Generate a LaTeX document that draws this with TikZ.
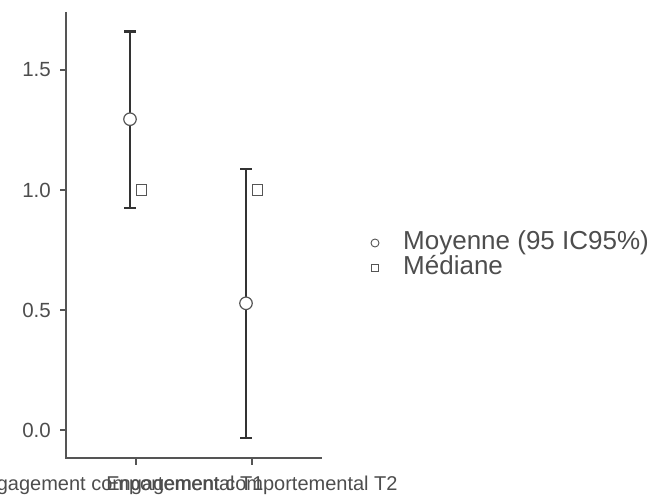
\documentclass[tikz,border=0pt]{standalone}
\usepackage{fontspec}
\setmainfont{Liberation Sans}
\definecolor{ax_grey}{RGB}{85,85,85}
\definecolor{bar_dark}{RGB}{51,51,51}
\definecolor{txt_grey}{RGB}{77,77,77}

\begin{document}
\begin{tikzpicture}[x=1pt,y=1pt]
    % Define styles
    \tikzset{
        meanpt/.style={circle,draw=ax_grey,fill=white,line width=1.2pt,inner sep=0pt,minimum size=12.5pt},
        medpt/.style={rectangle,draw=ax_grey,fill=white,line width=1.2pt,inner sep=0pt,minimum size=10.5pt},
        errbar/.style={draw=bar_dark,line width=2.5pt},
        axisline/.style={draw=ax_grey,line width=1.8pt},
        ticklab/.style={text=txt_grey,inner sep=0pt,font=\fontsize{20.5}{20.5}\selectfont},
        legtext/.style={text=txt_grey,inner sep=0pt,font=\fontsize{26}{26}\selectfont}
    }
    \useasboundingbox (0,0) rectangle (658,495);

    % Axes
    \coordinate (ytop) at (66,483);
    \coordinate (orig) at (66,36.7);
    \coordinate (xend) at (322,36.7);
    \draw[axisline] (ytop) -- (orig) -- (xend);

    \foreach \v/\lab [count=\k] in {0/0.0,0.5/0.5,1/1.0,1.5/1.5}    % y ticks and labels
    {
        \pgfmathsetmacro{\yy}{65+240*\v}
        \draw[axisline] (60,\yy) -- (66,\yy);
        \node[ticklab,anchor=east] (ytick\k) at (51,\yy) {\lab};
    }

    \foreach \x/\lx/\lab [count=\k] in {136/118/T1,252/252/T2}    % x ticks and labels
    {
        \draw[axisline] (\x,36.7) -- (\x,30);
        \node[ticklab,font=\fontsize{20}{20}\selectfont,anchor=base] (xlab\k) at (\lx,5) {Engagement comportemental \lab};
    }

    \foreach \x/\lo/\hi/\mn/\md [count=\k] in {130/0.926/1.66/1.295/1.0,246/-0.033/1.0875/0.528/1.0}    % error bars, means, medians
    {
        % Calculate positions
        \pgfmathsetmacro{\ylo}{65+240*\lo}
        \pgfmathsetmacro{\yhi}{65+240*\hi}
        \pgfmathsetmacro{\ymn}{65+240*\mn}
        \pgfmathsetmacro{\ymd}{65+240*\md}
        \coordinate (lo\k) at (\x,\ylo);
        \coordinate (hi\k) at (\x,\yhi);

        % Draw bar with caps
        \draw[errbar] (lo\k) -- (hi\k);
        \draw[errbar] ([xshift=-6pt]lo\k) -- ([xshift=6pt]lo\k);
        \draw[errbar] ([xshift=-6pt]hi\k) -- ([xshift=6pt]hi\k);

        % Draw mean and median
        \node[meanpt] (mean\k) at (\x,\ymn) {};
        \node[medpt] (med\k) at ({\x+11.5},\ymd) {};
    }

    % Legend
    \node[meanpt,minimum size=8pt,line width=0.9pt] (legmean) at (375,252) {};
    \node[medpt,minimum size=7.5pt,line width=0.9pt] (legmed) at (375,227) {};
    \node[legtext,anchor=base west] (legmeantxt) at (403,245) {Moyenne (95 IC95\%)};
    \node[legtext,anchor=base west] (legmedtxt) at (403,220) {Médiane};
\end{tikzpicture}
\end{document}
